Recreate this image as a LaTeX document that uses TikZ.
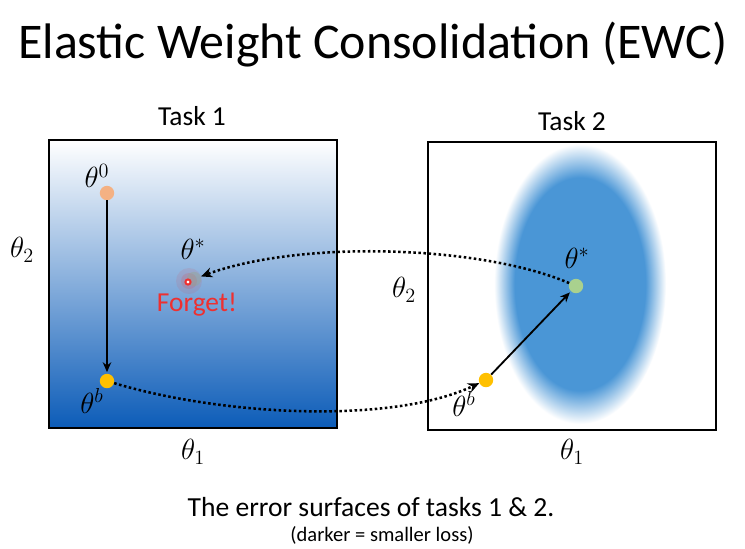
\documentclass[tikz,border=0pt]{standalone}
\usepackage{amsmath}
\usepackage{fontspec}
\setmainfont{Carlito}
\usetikzlibrary{arrows.meta}

\definecolor{dkblue}{RGB}{12,92,184}
\definecolor{midblue}{RGB}{170,200,236}
\definecolor{blobblue}{RGB}{74,150,214}
\definecolor{peach}{RGB}{244,177,131}
\definecolor{gold}{RGB}{255,192,0}
\definecolor{pale green}{RGB}{169,209,142}
\definecolor{forget red}{RGB}{238,48,48}

\pgfdeclareradialshading{blob}{\pgfpoint{0bp}{0bp}}{color(0bp)=(blobblue); color(19bp)=(blobblue); color(25bp)=(white); color(50bp)=(white)}

\begin{document}
\begin{tikzpicture}[x=0.025cm,y=-0.025cm,
  panel/.style={draw,line width=1.7pt,minimum width=7.2cm,minimum height=7.2cm,inner sep=0pt},
  dot/.style={circle,inner sep=0pt,minimum size=0.36cm},
  sym/.style={font=\fontsize{20}{24}\selectfont},
  label text/.style={font=\fontsize{19.5}{22}\selectfont},
  move/.style={-{Stealth[length=7pt,width=6pt]},line width=1.3pt,shorten >=1pt},
  jump/.style={-{Stealth[length=8pt,width=7pt]},line width=1.8pt,dash pattern=on 1.8pt off 1.8pt}]
  \useasboundingbox (0,0) rectangle (745,548);

  \node[font=\fontsize{35.5}{40}\selectfont] (title) at (373,45) {Elastic Weight Consolidation (EWC)};

  \node[panel,top color=white,middle color=midblue,bottom color=dkblue] (box1) at (193,284) {};
  \node[panel,fill=white] (box2) at (572,286) {};
  \shade[shading=blob] (580,284) ellipse [x radius=86, y radius=140];
  \node[panel] at (box2) {};

  \node[label text] (task1) at (192,116) {Task 1};
  \node[label text] (task2) at (572,121) {Task 2};

  \node[sym] (l1x) at (193,452) {$\theta_1$};
  \node[sym] (l1y) at (22,250) {$\theta_2$};
  \node[sym] (l2x) at (572,452) {$\theta_1$};
  \node[sym] (l2y) at (404,290) {$\theta_2$};

  % task 1
  \node[dot,fill=peach] (d0) at (107,193) {};
  \node[dot,fill=gold] (db1) at (107,381) {};
  \fill[forget red,opacity=0.10] (189,281) circle (13);
  \fill[forget red,opacity=0.15] (189,281) circle (8);
  \node[dot,fill=pale green!50!gray,opacity=0.35] (ds1) at (194,279) {};
  \node[circle,draw=forget red,fill=white,line width=1.4pt,inner sep=0pt,minimum size=0.13cm] (fg) at (188,282) {};
  \node[sym] (t0) at (97,176) {$\theta^0$};
  \node[sym] (tb1) at (92,401) {$\theta^b$};
  \node[sym] (ts1) at (193,249) {$\theta^*$};
  \node[label text,text=forget red] (forget) at (197,305) {Forget!};

  % task 2
  \node[dot,fill=pale green] (ds2) at (576,286) {};
  \node[dot,fill=gold] (db2) at (486,380) {};
  \node[sym] (ts2) at (577,258) {$\theta^*$};
  \node[sym] (tb2) at (464,404) {$\theta^b$};

  \draw[move] (d0) -- (db1);
  \draw[move] (db2) -- (ds2);
  \draw[jump] (db1) .. controls (220,415) and (390,425) .. (db2);
  \draw[jump] (ds2) .. controls (480,245) and (300,240) .. (ds1);

  \node[font=\fontsize{19.6}{22}\selectfont] (cap) at (371,507) {The error surfaces of tasks 1 \& 2.};
  \node[font=\fontsize{14.6}{17}\selectfont,inner sep=0pt] (sub) at (382,535) {(darker = smaller loss)};
\end{tikzpicture}
\end{document}
